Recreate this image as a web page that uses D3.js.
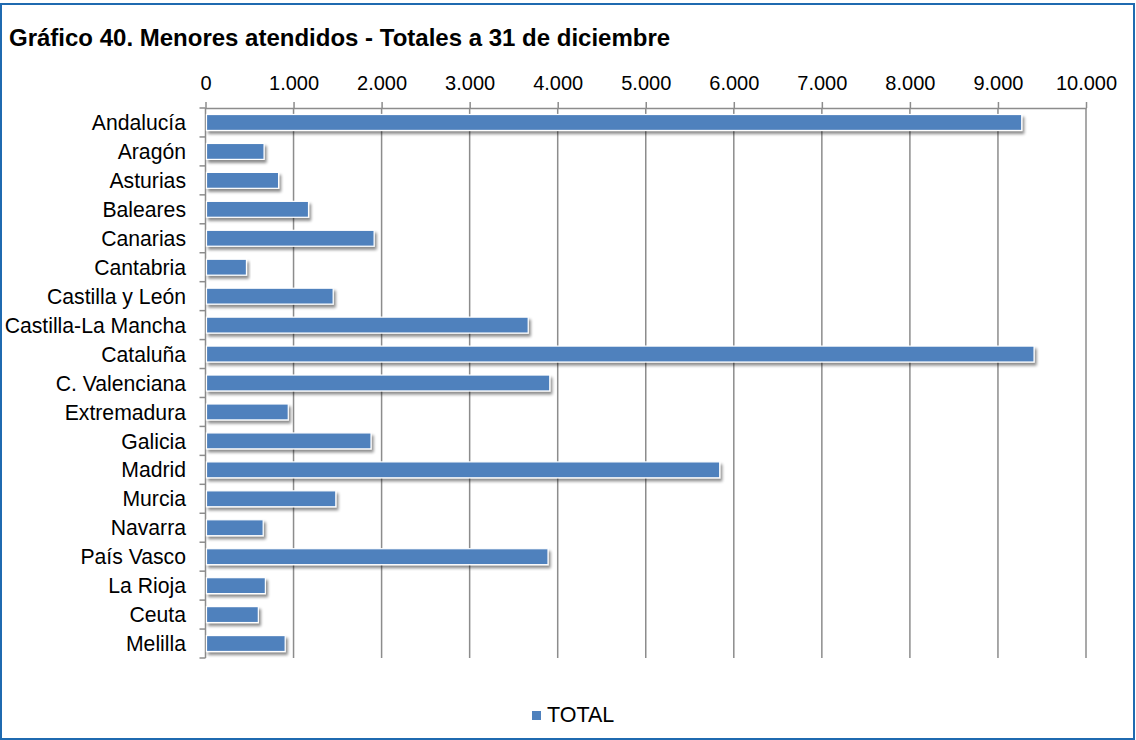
<!DOCTYPE html>
<html>
<head>
<meta charset="utf-8">
<script src="https://cdn.jsdelivr.net/npm/d3@7"></script>
<style>
  html, body { margin: 0; padding: 0; background: #fff; }
  svg { display: block; font-family: "Liberation Sans", Arial, sans-serif; }
</style>
</head>
<body>
<svg id="chart" width="1136" height="740"></svg>
<script>
// Menores atendidos por comunidad autónoma (totales a 31 de diciembre)
const categories = [
  "Andalucía", "Aragón", "Asturias", "Baleares", "Canarias", "Cantabria",
  "Castilla y León", "Castilla-La Mancha", "Cataluña", "C. Valenciana",
  "Extremadura", "Galicia", "Madrid", "Murcia", "Navarra", "País Vasco",
  "La Rioja", "Ceuta", "Melilla"
];
const totals = [
  9270, 665, 830, 1170, 1915, 465,
  1450, 3665, 9410, 3910,
  940, 1880, 5840, 1480, 655, 3890,
  680, 600, 905
];
const xTicks = [0, 1000, 2000, 3000, 4000, 5000, 6000, 7000, 8000, 9000, 10000];
const seriesName = "TOTAL";
const titleText = "Gráfico 40. Menores atendidos - Totales a 31 de diciembre";

const svg = d3.select("#chart");
const W = 1136, H = 740;
const plot = { left: 205.5, right: 1086, top: 108, bottom: 658 };
const barColor = "#4F81BD";
const gridColor = "#8c8c8c";

// outer frame
svg.append("rect")
  .attr("x", 1).attr("y", 4).attr("width", W - 3).attr("height", H - 5)
  .attr("fill", "#fff").attr("stroke", "#1F6AB0").attr("stroke-width", 2);

// title
svg.append("text")
  .attr("x", 9).attr("y", 46)
  .attr("font-size", 24).attr("font-weight", "bold").attr("fill", "#000")
  .text(titleText);

// drop shadow for bars
const defs = svg.append("defs");
const f = defs.append("filter").attr("id", "shadow")
  .attr("x", "-5%").attr("y", "-40%").attr("width", "115%").attr("height", "200%");
f.append("feGaussianBlur").attr("in", "SourceAlpha").attr("stdDeviation", 1.6).attr("result", "b");
f.append("feOffset").attr("in", "b").attr("dx", 2).attr("dy", 2.5).attr("result", "o");
f.append("feComponentTransfer").attr("in", "o").attr("result", "s")
  .append("feFuncA").attr("type", "linear").attr("slope", 0.45);
const m = f.append("feMerge");
m.append("feMergeNode").attr("in", "s");
m.append("feMergeNode").attr("in", "SourceGraphic");

const x = d3.scaleLinear().domain([0, 10000]).range([plot.left, plot.right]);
const y = d3.scaleBand().domain(categories).range([plot.top, plot.bottom])
  .paddingInner(0.45).paddingOuter(0.225);

const fmt = v => d3.format(",")(v).replace(/,/g, ".");

// vertical gridlines
svg.append("g").selectAll("line").data(xTicks.slice(1)).join("line")
  .attr("x1", d => x(d)).attr("x2", d => x(d))
  .attr("y1", plot.top).attr("y2", plot.bottom)
  .attr("stroke", gridColor).attr("stroke-width", 1.5);

// top value axis
const xAxis = svg.append("g").attr("transform", `translate(0,${plot.top})`)
  .call(d3.axisTop(x).tickValues(xTicks).tickFormat(fmt).tickSizeInner(6).tickSizeOuter(0).tickPadding(12));
xAxis.select(".domain").attr("stroke", gridColor).attr("stroke-width", 1.5);
xAxis.selectAll(".tick line").attr("stroke", gridColor).attr("stroke-width", 1.5);
xAxis.selectAll(".tick text").attr("font-size", 20).attr("fill", "#000")
  .attr("font-family", "Liberation Sans, Arial, sans-serif");

// left category axis with ticks at band boundaries
const yAxisG = svg.append("g");
yAxisG.append("line")
  .attr("x1", plot.left).attr("x2", plot.left)
  .attr("y1", plot.top).attr("y2", plot.bottom)
  .attr("stroke", gridColor).attr("stroke-width", 1.5);
const bounds = d3.range(categories.length + 1).map(i => plot.top + i * y.step());
yAxisG.selectAll("line.tk").data(bounds).join("line").attr("class", "tk")
  .attr("x1", plot.left - 6).attr("x2", plot.left)
  .attr("y1", d => d).attr("y2", d => d)
  .attr("stroke", gridColor).attr("stroke-width", 1.5);
yAxisG.selectAll("text").data(categories).join("text")
  .attr("x", 186).attr("y", d => y(d) + y.bandwidth() / 2)
  .attr("dy", "0.36em").attr("text-anchor", "end")
  .attr("font-size", 21.2).attr("fill", "#000")
  .text(d => d);

// bars
svg.append("g").selectAll("rect").data(categories).join("rect")
  .attr("x", x(0) + 1)
  .attr("y", d => y(d))
  .attr("width", (d, i) => x(totals[i]) - x(0) - 1)
  .attr("height", y.bandwidth())
  .attr("fill", barColor)
  .attr("stroke", "#fff").attr("stroke-width", 1.2)
  .attr("filter", "url(#shadow)");

// legend
const lg = svg.append("g");
lg.append("rect").attr("x", 532).attr("y", 711).attr("width", 9).attr("height", 9).attr("fill", barColor);
lg.append("text").attr("x", 547).attr("y", 722).attr("font-size", 21.5).attr("fill", "#000").text(seriesName);
</script>
</body>
</html>
